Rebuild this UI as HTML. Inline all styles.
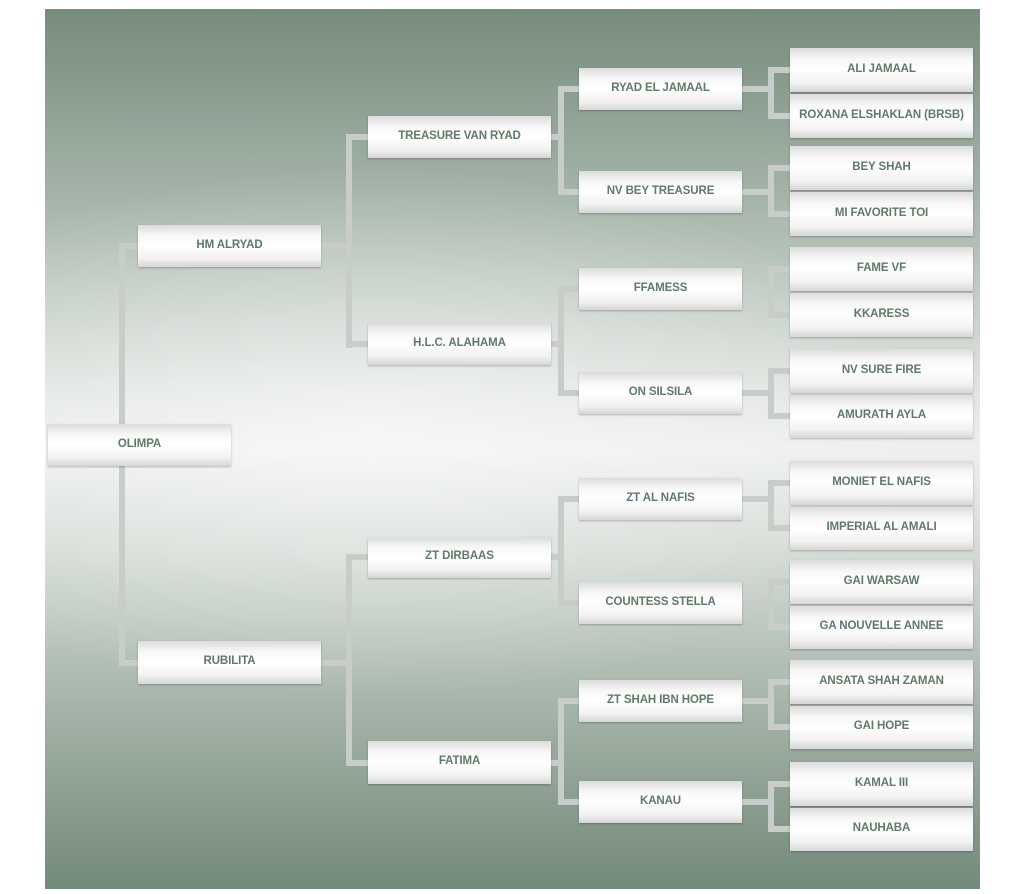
<!DOCTYPE html>
<html><head><meta charset="utf-8"><style>
body{margin:0;width:1024px;height:894px;background:#fff;position:relative;overflow:hidden;font-family:"Liberation Sans",sans-serif}
.bg{position:absolute;left:45px;top:9px;width:935px;height:880px;
background:linear-gradient(180deg,#768c7c 0%,#a6b5aa 22%,#e2e6e2 44%,#eef0ee 50%,#d3dad4 62%,#9eaea2 82%,#738a7a 100%)}
.bg2{position:absolute;left:45px;top:9px;width:935px;height:880px;background:radial-gradient(ellipse 60% 30% at 35% 48%,rgba(255,255,255,0.5),rgba(255,255,255,0))}
.b{position:absolute;box-sizing:border-box;padding-bottom:3px;background:linear-gradient(180deg,#dcdcdc 0%,#f7f7f7 25%,#ffffff 50%,#f2f2f2 80%,#d6d6d6 100%);box-shadow:0 1px 2px rgba(0,0,0,0.25);color:#5f7a68;font-size:11.5px;font-weight:bold;text-align:center;display:flex;align-items:center;justify-content:center;letter-spacing:-0.1px}
.l{position:absolute;background:#c9cdc9}
</style></head><body>
<div class="bg"></div><div class="bg2"></div>
<div class="l" style="left:119px;top:243px;width:6px;height:423px"></div>
<div class="l" style="left:119px;top:243px;width:20px;height:6px"></div>
<div class="l" style="left:119px;top:660px;width:20px;height:6px"></div>
<div class="l" style="left:321px;top:243px;width:30px;height:6px"></div>
<div class="l" style="left:346px;top:134px;width:6px;height:214px"></div>
<div class="l" style="left:346px;top:134px;width:22px;height:6px"></div>
<div class="l" style="left:346px;top:341px;width:22px;height:6px"></div>
<div class="l" style="left:321px;top:660px;width:30px;height:6px"></div>
<div class="l" style="left:346px;top:554px;width:6px;height:212px"></div>
<div class="l" style="left:346px;top:554px;width:22px;height:6px"></div>
<div class="l" style="left:346px;top:760px;width:22px;height:6px"></div>
<div class="l" style="left:551px;top:134px;width:12px;height:6px"></div>
<div class="l" style="left:558px;top:86px;width:6px;height:109px"></div>
<div class="l" style="left:558px;top:86px;width:21px;height:6px"></div>
<div class="l" style="left:558px;top:189px;width:21px;height:6px"></div>
<div class="l" style="left:551px;top:341px;width:12px;height:6px"></div>
<div class="l" style="left:558px;top:286px;width:6px;height:110px"></div>
<div class="l" style="left:558px;top:286px;width:21px;height:6px"></div>
<div class="l" style="left:558px;top:390px;width:21px;height:6px"></div>
<div class="l" style="left:551px;top:554px;width:12px;height:6px"></div>
<div class="l" style="left:558px;top:496px;width:6px;height:110px"></div>
<div class="l" style="left:558px;top:496px;width:21px;height:6px"></div>
<div class="l" style="left:558px;top:600px;width:21px;height:6px"></div>
<div class="l" style="left:551px;top:760px;width:12px;height:6px"></div>
<div class="l" style="left:558px;top:698px;width:6px;height:107px"></div>
<div class="l" style="left:558px;top:698px;width:21px;height:6px"></div>
<div class="l" style="left:558px;top:799px;width:21px;height:6px"></div>
<div class="l" style="left:742px;top:86px;width:30px;height:6px"></div>
<div class="l" style="left:768px;top:67px;width:6px;height:52px"></div>
<div class="l" style="left:768px;top:67px;width:22px;height:6px"></div>
<div class="l" style="left:768px;top:113px;width:22px;height:6px"></div>
<div class="l" style="left:742px;top:189px;width:30px;height:6px"></div>
<div class="l" style="left:768px;top:165px;width:6px;height:52px"></div>
<div class="l" style="left:768px;top:165px;width:22px;height:6px"></div>
<div class="l" style="left:768px;top:211px;width:22px;height:6px"></div>
<div class="l" style="left:742px;top:286px;width:30px;height:6px"></div>
<div class="l" style="left:768px;top:266px;width:6px;height:52px"></div>
<div class="l" style="left:768px;top:266px;width:22px;height:6px"></div>
<div class="l" style="left:768px;top:312px;width:22px;height:6px"></div>
<div class="l" style="left:742px;top:390px;width:30px;height:6px"></div>
<div class="l" style="left:768px;top:368px;width:6px;height:51px"></div>
<div class="l" style="left:768px;top:368px;width:22px;height:6px"></div>
<div class="l" style="left:768px;top:413px;width:22px;height:6px"></div>
<div class="l" style="left:742px;top:496px;width:30px;height:6px"></div>
<div class="l" style="left:768px;top:480px;width:6px;height:51px"></div>
<div class="l" style="left:768px;top:480px;width:22px;height:6px"></div>
<div class="l" style="left:768px;top:525px;width:22px;height:6px"></div>
<div class="l" style="left:742px;top:600px;width:30px;height:6px"></div>
<div class="l" style="left:768px;top:579px;width:6px;height:51px"></div>
<div class="l" style="left:768px;top:579px;width:22px;height:6px"></div>
<div class="l" style="left:768px;top:624px;width:22px;height:6px"></div>
<div class="l" style="left:742px;top:698px;width:30px;height:6px"></div>
<div class="l" style="left:768px;top:679px;width:6px;height:51px"></div>
<div class="l" style="left:768px;top:679px;width:22px;height:6px"></div>
<div class="l" style="left:768px;top:724px;width:22px;height:6px"></div>
<div class="l" style="left:742px;top:799px;width:30px;height:6px"></div>
<div class="l" style="left:768px;top:781px;width:6px;height:51px"></div>
<div class="l" style="left:768px;top:781px;width:22px;height:6px"></div>
<div class="l" style="left:768px;top:826px;width:22px;height:6px"></div>

<div class="b" style="left:48px;top:424px;width:183px;height:42px">OLIMPA</div>
<div class="b" style="left:138px;top:225px;width:183px;height:42px">HM ALRYAD</div>
<div class="b" style="left:138px;top:641px;width:183px;height:43px">RUBILITA</div>
<div class="b" style="left:368px;top:116px;width:183px;height:42px">TREASURE VAN RYAD</div>
<div class="b" style="left:368px;top:323px;width:183px;height:42px">H.L.C. ALAHAMA</div>
<div class="b" style="left:368px;top:537px;width:183px;height:41px">ZT DIRBAAS</div>
<div class="b" style="left:368px;top:741px;width:183px;height:43px">FATIMA</div>
<div class="b" style="left:579px;top:68px;width:163px;height:42px">RYAD EL JAMAAL</div>
<div class="b" style="left:579px;top:171px;width:163px;height:42px">NV BEY TREASURE</div>
<div class="b" style="left:579px;top:268px;width:163px;height:42px">FFAMESS</div>
<div class="b" style="left:579px;top:372px;width:163px;height:42px">ON SILSILA</div>
<div class="b" style="left:579px;top:478px;width:163px;height:42px">ZT AL NAFIS</div>
<div class="b" style="left:579px;top:582px;width:163px;height:42px">COUNTESS STELLA</div>
<div class="b" style="left:579px;top:680px;width:163px;height:42px">ZT SHAH IBN HOPE</div>
<div class="b" style="left:579px;top:781px;width:163px;height:42px">KANAU</div>
<div class="b" style="left:790px;top:48px;width:183px;height:44px">ALI JAMAAL</div>
<div class="b" style="left:790px;top:94px;width:183px;height:44px">ROXANA ELSHAKLAN (BRSB)</div>
<div class="b" style="left:790px;top:146px;width:183px;height:44px">BEY SHAH</div>
<div class="b" style="left:790px;top:192px;width:183px;height:44px">MI FAVORITE TOI</div>
<div class="b" style="left:790px;top:247px;width:183px;height:44px">FAME VF</div>
<div class="b" style="left:790px;top:293px;width:183px;height:44px">KKARESS</div>
<div class="b" style="left:790px;top:349px;width:183px;height:44px">NV SURE FIRE</div>
<div class="b" style="left:790px;top:395px;width:183px;height:43px">AMURATH AYLA</div>
<div class="b" style="left:790px;top:461px;width:183px;height:44px">MONIET EL NAFIS</div>
<div class="b" style="left:790px;top:507px;width:183px;height:43px">IMPERIAL AL AMALI</div>
<div class="b" style="left:790px;top:560px;width:183px;height:44px">GAI WARSAW</div>
<div class="b" style="left:790px;top:606px;width:183px;height:43px">GA NOUVELLE ANNEE</div>
<div class="b" style="left:790px;top:660px;width:183px;height:44px">ANSATA SHAH ZAMAN</div>
<div class="b" style="left:790px;top:706px;width:183px;height:43px">GAI HOPE</div>
<div class="b" style="left:790px;top:762px;width:183px;height:44px">KAMAL III</div>
<div class="b" style="left:790px;top:808px;width:183px;height:43px">NAUHABA</div>
</body></html>
